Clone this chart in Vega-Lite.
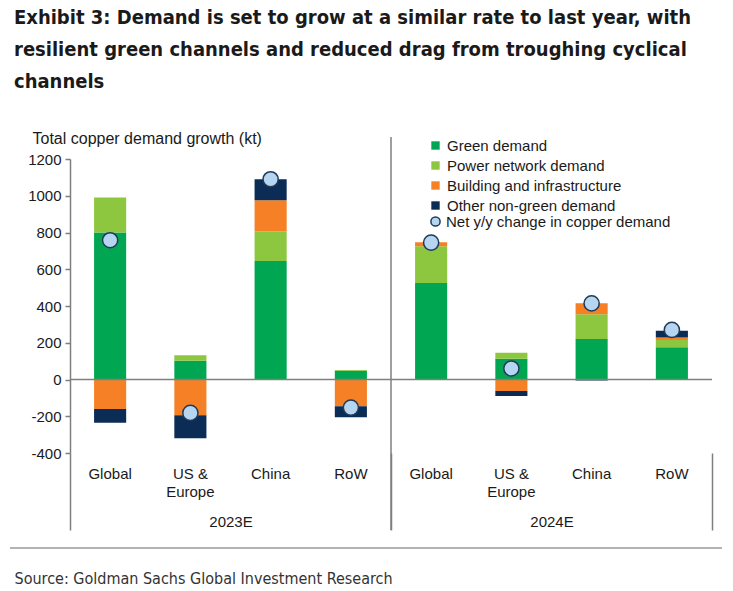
{
  "$schema": "https://vega.github.io/schema/vega-lite/v6.json",
  "autosize": {"type": "none"},
  "width": 642,
  "height": 294,
  "padding": {"left": 70, "top": 159, "right": 21, "bottom": 138},
  "background": "white",
  "config": {"view": {"stroke": null}, "font": "Liberation Sans"},
  "title": {
    "text": ["Exhibit 3: Demand is set to grow at a similar rate to last year, with", "resilient green channels and reduced drag from troughing cyclical", "channels"],
    "anchor": "start",
    "frame": "group",
    "dx": -56,
    "offset": 38,
    "font": "DejaVu Sans Condensed",
    "fontSize": 20,
    "fontWeight": "bold",
    "lineHeight": 32,
    "color": "#1a1a1a"
  },
  "datasets": {
    "bars": [
      {"year": "2023E", "region": "Global", "key": "2023E|Global", "series": "Green demand", "order": 1, "value": 800},
      {"year": "2023E", "region": "Global", "key": "2023E|Global", "series": "Power network demand", "order": 2, "value": 190},
      {"year": "2023E", "region": "Global", "key": "2023E|Global", "series": "Building and infrastructure", "order": 3, "value": -160},
      {"year": "2023E", "region": "Global", "key": "2023E|Global", "series": "Other non-green demand", "order": 4, "value": -75},
      {"year": "2023E", "region": "US & Europe", "key": "2023E|US & Europe", "series": "Green demand", "order": 1, "value": 102},
      {"year": "2023E", "region": "US & Europe", "key": "2023E|US & Europe", "series": "Power network demand", "order": 2, "value": 30},
      {"year": "2023E", "region": "US & Europe", "key": "2023E|US & Europe", "series": "Building and infrastructure", "order": 3, "value": -195},
      {"year": "2023E", "region": "US & Europe", "key": "2023E|US & Europe", "series": "Other non-green demand", "order": 4, "value": -125},
      {"year": "2023E", "region": "China", "key": "2023E|China", "series": "Green demand", "order": 1, "value": 645},
      {"year": "2023E", "region": "China", "key": "2023E|China", "series": "Power network demand", "order": 2, "value": 160},
      {"year": "2023E", "region": "China", "key": "2023E|China", "series": "Building and infrastructure", "order": 3, "value": 170},
      {"year": "2023E", "region": "China", "key": "2023E|China", "series": "Other non-green demand", "order": 4, "value": 115},
      {"year": "2023E", "region": "RoW", "key": "2023E|RoW", "series": "Green demand", "order": 1, "value": 47},
      {"year": "2023E", "region": "RoW", "key": "2023E|RoW", "series": "Power network demand", "order": 2, "value": 5},
      {"year": "2023E", "region": "RoW", "key": "2023E|RoW", "series": "Building and infrastructure", "order": 3, "value": -145},
      {"year": "2023E", "region": "RoW", "key": "2023E|RoW", "series": "Other non-green demand", "order": 4, "value": -60},
      {"year": "2024E", "region": "Global", "key": "2024E|Global", "series": "Green demand", "order": 1, "value": 525},
      {"year": "2024E", "region": "Global", "key": "2024E|Global", "series": "Power network demand", "order": 2, "value": 200},
      {"year": "2024E", "region": "Global", "key": "2024E|Global", "series": "Building and infrastructure", "order": 3, "value": 22},
      {"year": "2024E", "region": "Global", "key": "2024E|Global", "series": "Other non-green demand", "order": 4, "value": 0},
      {"year": "2024E", "region": "US & Europe", "key": "2024E|US & Europe", "series": "Green demand", "order": 1, "value": 113},
      {"year": "2024E", "region": "US & Europe", "key": "2024E|US & Europe", "series": "Power network demand", "order": 2, "value": 32},
      {"year": "2024E", "region": "US & Europe", "key": "2024E|US & Europe", "series": "Building and infrastructure", "order": 3, "value": -62},
      {"year": "2024E", "region": "US & Europe", "key": "2024E|US & Europe", "series": "Other non-green demand", "order": 4, "value": -28},
      {"year": "2024E", "region": "China", "key": "2024E|China", "series": "Green demand", "order": 1, "value": 220},
      {"year": "2024E", "region": "China", "key": "2024E|China", "series": "Power network demand", "order": 2, "value": 135},
      {"year": "2024E", "region": "China", "key": "2024E|China", "series": "Building and infrastructure", "order": 3, "value": 60},
      {"year": "2024E", "region": "China", "key": "2024E|China", "series": "Other non-green demand", "order": 4, "value": -5},
      {"year": "2024E", "region": "RoW", "key": "2024E|RoW", "series": "Green demand", "order": 1, "value": 175},
      {"year": "2024E", "region": "RoW", "key": "2024E|RoW", "series": "Power network demand", "order": 2, "value": 40},
      {"year": "2024E", "region": "RoW", "key": "2024E|RoW", "series": "Building and infrastructure", "order": 3, "value": 14},
      {"year": "2024E", "region": "RoW", "key": "2024E|RoW", "series": "Other non-green demand", "order": 4, "value": 36}
    ],
    "net": [
      {"key": "2023E|Global", "net": 758},
      {"key": "2023E|US & Europe", "net": -182},
      {"key": "2023E|China", "net": 1090},
      {"key": "2023E|RoW", "net": -153},
      {"key": "2024E|Global", "net": 745},
      {"key": "2024E|US & Europe", "net": 60},
      {"key": "2024E|China", "net": 414},
      {"key": "2024E|RoW", "net": 270}
    ],
    "years": [
      {"year": "2024E"}
    ],
    "one": [{}]
  },
  "layer": [
    {
      "data": {"name": "bars"},
      "mark": {"type": "bar"},
      "encoding": {
        "x": {
          "field": "key", "type": "nominal",
          "scale": {"domain": ["2023E|Global", "2023E|US & Europe", "2023E|China", "2023E|RoW", "2024E|Global", "2024E|US & Europe", "2024E|China", "2024E|RoW"], "paddingInner": 0.6, "paddingOuter": 0.3},
          "axis": {
            "orient": "bottom", "title": null, "domain": false, "ticks": false,
            "labelAngle": 0, "labelPadding": 13, "labelFontSize": 15, "labelColor": "#1a1a1a",
            "labelLineHeight": 18, "labelBaseline": "top",
            "labelExpr": "indexof(datum.label, 'US') >= 0 ? ['US &', 'Europe'] : split(datum.label, '|')[1]"
          }
        },
        "y": {
          "field": "value", "type": "quantitative", "stack": "zero",
          "scale": {"domain": [-400, 1200], "nice": false},
          "axis": {
            "values": [-400, -200, 0, 200, 400, 600, 800, 1000, 1200],
            "labelExpr": "datum.value + ''", "labelOverlap": false, "tickCount": 9,
            "grid": false, "domainColor": "#7f7f7f", "domainWidth": 1.5, "tickColor": "#7f7f7f", "tickSize": 5, "tickWidth": 1.5,
            "labelFontSize": 15, "labelColor": "#1a1a1a", "labelPadding": 4,
            "title": "Total copper demand growth (kt)", "titleAngle": 0, "titleAlign": "left", "titleBaseline": "alphabetic",
            "titleX": -38, "titleY": -16, "titleFontSize": 16, "titleFontWeight": "normal", "titleColor": "#1a1a1a"
          }
        },
        "color": {
          "field": "series", "type": "nominal",
          "scale": {"domain": ["Green demand", "Power network demand", "Building and infrastructure", "Other non-green demand"], "range": ["#00A651", "#8DC63F", "#F58025", "#0B2D55"]},
          "legend": {
            "title": null, "orient": "none", "legendX": 358, "legendY": -21, "padding": 0,
            "symbolType": "square", "symbolSize": 70, "symbolStrokeWidth": 0,
            "labelFontSize": 15, "labelColor": "#1a1a1a", "labelOffset": 4, "rowPadding": 4, "labelLimit": 400
          }
        },
        "order": {"field": "order", "type": "quantitative"}
      }
    },
    {
      "data": {"name": "one"},
      "mark": {"type": "rule", "color": "#7f7f7f", "strokeWidth": 1.5},
      "encoding": {"y": {"datum": 0}}
    },
    {
      "data": {"name": "net"},
      "mark": {"type": "point", "shape": "circle", "filled": false, "fill": "#B5D5F0", "fillOpacity": 1, "strokeWidth": 1.5, "strokeOpacity": 1, "size": 230, "opacity": 1},
      "encoding": {
        "x": {
          "field": "key", "type": "nominal",
          "scale": {"domain": ["2023E|Global", "2023E|US & Europe", "2023E|China", "2023E|RoW", "2024E|Global", "2024E|US & Europe", "2024E|China", "2024E|RoW"], "paddingInner": 0.6, "paddingOuter": 0.3},
          "axis": null
        },
        "y": {
          "field": "net", "type": "quantitative",
          "axis": {
            "values": [-400, -200, 0, 200, 400, 600, 800, 1000, 1200],
            "labelExpr": "datum.value + ''", "labelOverlap": false, "tickCount": 9,
            "grid": false, "domainColor": "#7f7f7f", "domainWidth": 1.5, "tickColor": "#7f7f7f", "tickSize": 5, "tickWidth": 1.5,
            "labelFontSize": 15, "labelColor": "#1a1a1a", "labelPadding": 4,
            "title": "Total copper demand growth (kt)", "titleAngle": 0, "titleAlign": "left", "titleBaseline": "alphabetic",
            "titleX": -38, "titleY": -16, "titleFontSize": 16, "titleFontWeight": "normal", "titleColor": "#1a1a1a"
          }
        },
        "stroke": {
          "datum": "Net y/y change in copper demand",
          "scale": {"range": ["#1F3A5A"]},
          "legend": {
            "title": null, "orient": "none", "legendX": 358, "legendY": 55, "padding": 0,
            "symbolType": "circle", "symbolSize": 85, "labelLimit": 400,
            "labelFontSize": 15, "labelColor": "#1a1a1a", "labelOffset": 3,
            "symbolFillColor": "#B5D5F0", "symbolStrokeWidth": 1.5,
            "encode": {"symbols": {"update": {"fill": {"value": "#B5D5F0"}, "strokeWidth": {"value": 1.5}, "opacity": {"value": 1}}}}
          }
        }
      }
    },
    {
      "data": {"name": "years"},
      "mark": {"type": "rule", "color": "#7f7f7f", "strokeWidth": 1.5},
      "encoding": {
        "x": {
          "field": "year", "type": "nominal", "bandPosition": 0,
          "scale": {"domain": ["2023E", "2024E"], "paddingInner": 0, "paddingOuter": 0},
          "axis": {
            "orient": "bottom", "domain": false, "ticks": true, "tickBand": "extent", "tickSize": 77, "tickWidth": 1.5, "tickColor": "#7f7f7f",
            "labelAngle": 0, "labelPadding": -16, "labelBaseline": "top", "labelFontSize": 15, "labelColor": "#1a1a1a",
            "title": "Source: Goldman Sachs Global Investment Research",
            "titleX": -56, "titleY": 130, "titleAlign": "left", "titleBaseline": "alphabetic", "titleAnchor": "start",
            "titleFont": "DejaVu Sans Condensed", "titleFontSize": 16, "titleFontWeight": "normal", "titleColor": "#333333"
          }
        },
        "y": {"datum": 1320},
        "y2": {"datum": -819}
      }
    },
    {
      "data": {"name": "one"},
      "mark": {"type": "rule", "color": "#9a9a9a", "strokeWidth": 1.5},
      "encoding": {
        "x": {"datum": -0.0935, "type": "quantitative", "scale": {"domain": [0, 1]}, "axis": null},
        "x2": {"datum": 1.0156},
        "y": {"datum": -917}
      }
    }
  ],
  "resolve": {"scale": {"x": "independent"}, "axis": {"x": "independent"}}
}
